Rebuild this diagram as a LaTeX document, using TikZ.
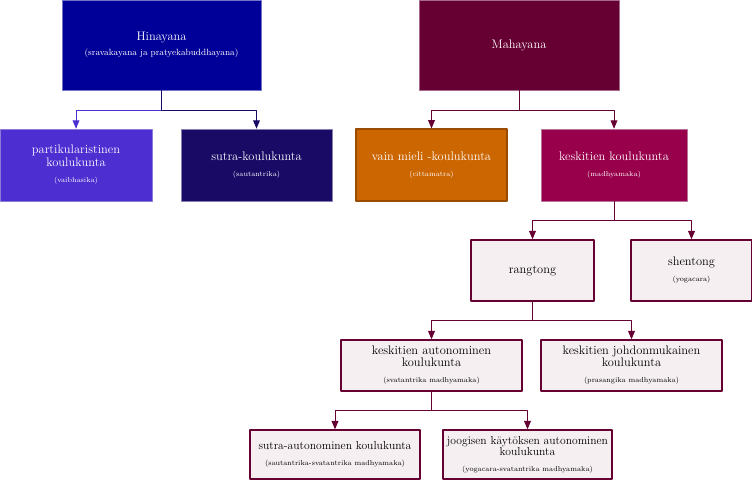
\documentclass[tikz,border=0pt]{standalone}
\usepackage{tikz}
\usetikzlibrary{arrows}
\definecolor{hinab}{rgb}{0.,0.,0.6}
\definecolor{hinal}{rgb}{0.45,0.45,0.78}
\definecolor{partb}{rgb}{0.30,0.18,0.82}
\definecolor{partl}{rgb}{0.55,0.48,0.85}
\definecolor{sutrb}{rgb}{0.10,0.04,0.40}
\definecolor{sutrl}{rgb}{0.52,0.50,0.68}
\definecolor{mahab}{rgb}{0.4,0.,0.2}
\definecolor{mahal}{rgb}{0.65,0.42,0.55}
\definecolor{vainb}{rgb}{0.8,0.4,0.}
\definecolor{vainl}{rgb}{0.6,0.3,0.}
\definecolor{keskb}{rgb}{0.6,0.,0.3}
\definecolor{keskl}{rgb}{0.72,0.45,0.6}
\definecolor{vaalea}{rgb}{0.961,0.937,0.949}
\newcommand{\ala}[1]{\\[2pt]{\fontsize{7.2}{8}\selectfont #1}}
\tikzset{
    lohko/.style={rectangle,align=center,inner xsep=0pt,inner ysep=2pt,font=\fontsize{12.4}{14}\selectfont},
    tumma/.style={lohko,text=white,line width=0.8pt},
    vaalea/.style={lohko,fill=vaalea,draw=mahab,line width=1.5pt,text=black},
    kapea/.style={font=\fontsize{11.6}{13.5}\selectfont},
    nuoli/.style={->,line width=0.9pt}
}
\begin{document}
\begin{tikzpicture}[line cap=round,line join=round,>=triangle 45,x=1pt,y=-1pt]
    \useasboundingbox (0,0) rectangle (752,480);
    \node[tumma,fill=hinab,draw=hinal,minimum width=199pt,minimum height=90pt] (hina) at (161.5,45) {Hinayana\\[1pt]{\fontsize{9}{10}\selectfont (sravakayana ja pratyekabuddhayana)}};
    \node[tumma,fill=mahab,draw=mahal,minimum width=200pt,minimum height=90pt] (maha) at (519,45) {Mahayana};
    \node[tumma,fill=partb,draw=partl,minimum width=152pt,minimum height=72pt] (part) at (76,165) {partikularistinen\\[-1pt]koulukunta\ala{(vaibhasika)}};
    \node[tumma,fill=sutrb,draw=sutrl,minimum width=151pt,minimum height=72pt] (sutr) at (256.5,165) {sutra-koulukunta\ala{(sautantrika)}};
    \node[tumma,fill=vainb,draw=vainl,line width=1.2pt,minimum width=151pt,minimum height=72pt] (vain) at (431.5,165) {vain mieli -koulukunta\ala{(cittamatra)}};
    \node[tumma,fill=keskb,draw=keskl,minimum width=146pt,minimum height=72pt] (kesk) at (614,165) {keskitien koulukunta\ala{(madhyamaka)}};
    \node[vaalea,minimum width=123pt,minimum height=61pt] (rang) at (532.5,270.5) {rangtong};
    \node[vaalea,minimum width=121pt,minimum height=61pt] (shen) at (691.5,270.5) {shentong\ala{(yogacara)}};
    \node[vaalea,minimum width=181pt,minimum height=51pt] (auto) at (431.5,365.5) {keskitien autonominen\\[-2pt]koulukunta\ala{(svatantrika madhyamaka)}};
    \node[vaalea,minimum width=181pt,minimum height=51pt] (johd) at (631.5,365.5) {keskitien johdonmukainen\\[-2pt]koulukunta\ala{(prasangika madhyamaka)}};
    \node[vaalea,kapea,minimum width=170pt,minimum height=49pt] (saut) at (335,454.5) {sutra-autonominen koulukunta\ala{(sautantrika-svatantrika madhyamaka)}};
    \node[vaalea,kapea,minimum width=169pt,minimum height=49pt] (joog) at (527.5,454.5) {joogisen käytöksen autonominen\\[-2pt]koulukunta\ala{(yogacara-svatantrika madhyamaka)}};
    \draw[nuoli,color=partb] (hina.south) -- ++(0,20) -| (part.north);
    \draw[nuoli,color=sutrb] (hina.south) -- ++(0,20) -| (sutr.north);
    \draw[nuoli,color=mahab] (maha.south) -- ++(0,20) -| (vain.north);
    \draw[nuoli,color=mahab] (maha.south) -- ++(0,20) -| (kesk.north);
    \draw[nuoli,color=mahab] (kesk.south) -- ++(0,19) -| (rang.north);
    \draw[nuoli,color=mahab] (kesk.south) -- ++(0,19) -| (shen.north);
    \draw[nuoli,color=mahab] (rang.south) -- ++(0,19) -| (auto.north);
    \draw[nuoli,color=mahab] (rang.south) -- ++(0,19) -| (johd.north);
    \draw[nuoli,color=mahab] (auto.south) -- ++(0,19) -| (saut.north);
    \draw[nuoli,color=mahab] (auto.south) -- ++(0,19) -| (joog.north);
\end{tikzpicture}
\end{document}
